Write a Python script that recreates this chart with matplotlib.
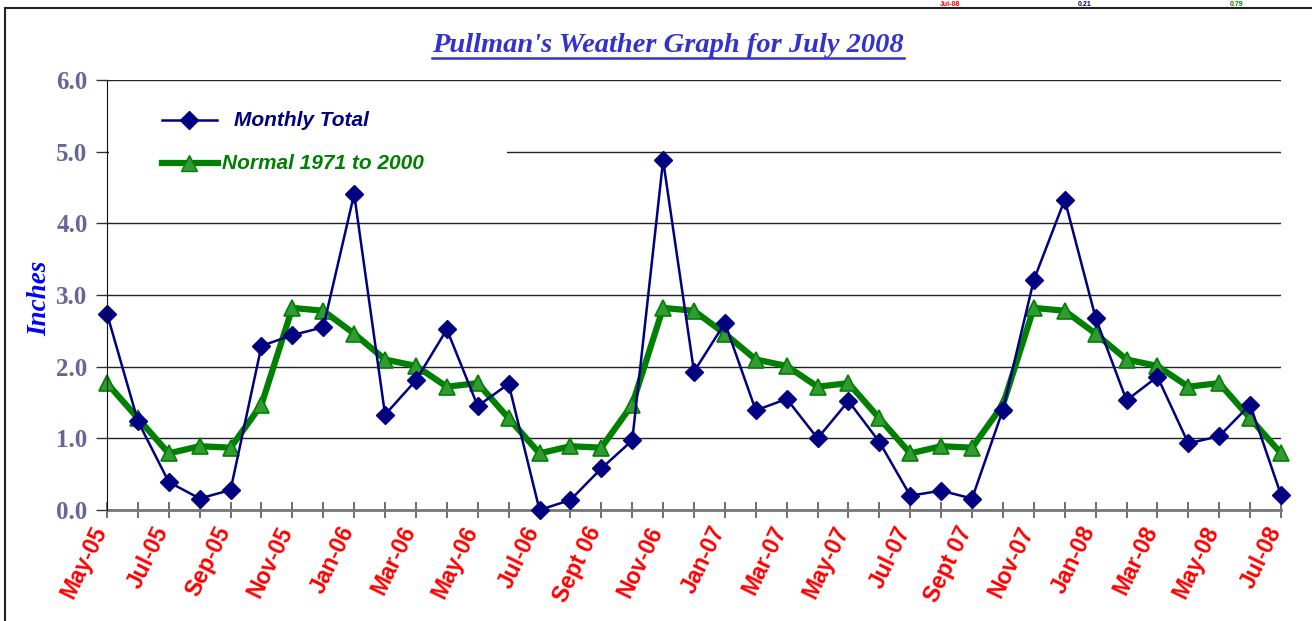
import matplotlib
matplotlib.use("Agg")
import matplotlib.pyplot as plt
import matplotlib.transforms as mtransforms
from matplotlib.lines import Line2D
from matplotlib.patches import Rectangle

# monthly data May-05 .. Jul-08
months = ["May-05", "Jun-05", "Jul-05", "Aug-05", "Sep-05", "Oct-05", "Nov-05", "Dec-05",
          "Jan-06", "Feb-06", "Mar-06", "Apr-06", "May-06", "Jun-06", "Jul-06", "Aug-06",
          "Sept 06", "Oct-06", "Nov-06", "Dec-06", "Jan-07", "Feb-07", "Mar-07", "Apr-07",
          "May-07", "Jun-07", "Jul-07", "Aug-07", "Sept 07", "Oct-07", "Nov-07", "Dec-07",
          "Jan-08", "Feb-08", "Mar-08", "Apr-08", "May-08", "Jun-08", "Jul-08"]

monthly_total = [2.74, 1.24, 0.39, 0.16, 0.28, 2.29, 2.44, 2.55,
                 4.41, 1.33, 1.81, 2.52, 1.45, 1.76, 0.00, 0.14,
                 0.58, 0.97, 4.88, 1.93, 2.61, 1.39, 1.55, 1.00,
                 1.52, 0.95, 0.20, 0.27, 0.16, 1.40, 3.21, 4.33,
                 2.68, 1.53, 1.86, 0.93, 1.03, 1.47, 0.21]

normal = [1.77, 1.28, 0.79, 0.89, 0.87, 1.47, 2.82, 2.78,
          2.46, 2.10, 2.01, 1.72, 1.77, 1.28, 0.79, 0.89,
          0.87, 1.47, 2.82, 2.78, 2.46, 2.10, 2.01, 1.72,
          1.77, 1.28, 0.79, 0.89, 0.87, 1.47, 2.82, 2.78,
          2.46, 2.10, 2.01, 1.72, 1.77, 1.28, 0.79]

W, H = 1312, 621
fig = plt.figure(figsize=(W / 100, H / 100), dpi=100)
ax = fig.add_axes([107 / W, 1 - 510 / H, (1281 - 107) / W, (510 - 80) / H])

x = list(range(len(months)))

ax.plot(x, monthly_total, color="#000080", lw=1.8, marker="D", ms=9,
        mfc="#000080", mec="#000080", zorder=5, clip_on=False)
ax.plot(x, normal, color="#008000", lw=4.5, marker="^", ms=11,
        mfc="#339933", mec="#008000", mew=1.2, zorder=4, clip_on=False)

ax.set_xlim(0, len(months) - 1)
ax.set_ylim(0, 6)
ax.set_yticks([0, 1, 2, 3, 4, 5, 6])
ax.set_yticklabels(["%.1f" % v for v in [0, 1, 2, 3, 4, 5, 6]],
                   fontfamily="Liberation Serif", fontweight="bold",
                   fontsize=18, color="#666699")
ax.tick_params(axis="y", length=8, width=1, color="#333333", pad=6)

ax.set_xticks(x)
ax.set_xticklabels([m if i % 2 == 0 else "" for i, m in enumerate(months)],
                   rotation=64, ha="right", va="top", rotation_mode="anchor",
                   fontfamily="Liberation Sans", fontweight="bold",
                   fontsize=16.5, color="#FF0000")
ax.tick_params(axis="x", direction="inout", length=12, width=1.2,
               color="#555555", pad=3)
shift = mtransforms.ScaledTranslation(-0.16, 0, fig.dpi_scale_trans)
for lbl in ax.get_xticklabels():
    lbl.set_transform(lbl.get_transform() + shift)

ax.grid(axis="y", color="#222222", lw=1)
ax.set_axisbelow(True)
for s in ["top", "right"]:
    ax.spines[s].set_visible(False)
ax.spines["left"].set_color("#111111")
ax.spines["left"].set_zorder(6)
ax.spines["bottom"].set_color("#777777")
ax.spines["bottom"].set_linewidth(2)

# legend box (hides part of gridline)
box = Rectangle((109 / W, 1 - 185 / H), 398 / W, 95 / H, transform=fig.transFigure,
                facecolor="white", edgecolor="none", zorder=3)
ax.add_artist(box)
box.set_transform(fig.transFigure)
box.set_clip_on(False)

fig.add_artist(Line2D([162 / W, 217 / W], [1 - 120 / H] * 2, color="#000080", lw=1.8))
fig.add_artist(Line2D([189 / W], [1 - 120 / H], color="#000080", marker="D", ms=9, ls="none"))
fig.text(234 / W, 1 - 120 / H, "Monthly Total", fontfamily="Liberation Sans",
         fontweight="bold", fontstyle="italic", fontsize=15, color="#000080", va="center")
fig.add_artist(Line2D([162 / W, 218 / W], [1 - 163 / H] * 2, color="#008000", lw=4.5))
fig.add_artist(Line2D([189 / W], [1 - 163 / H], color="#008000", marker="^", ms=11,
                      mfc="#339933", mec="#008000", ls="none"))
fig.text(222 / W, 1 - 163 / H, "Normal 1971 to 2000", fontfamily="Liberation Sans",
         fontweight="bold", fontstyle="italic", fontsize=15, color="#008000", va="center")

fig.text(40 / W, 1 - 298 / H, "Inches", rotation=90, ha="center", va="center",
         fontfamily="Liberation Serif", fontweight="bold", fontstyle="italic",
         fontsize=19.5, color="#0000FF")

title = fig.text(668 / W, 1 - 46 / H, "Pullman's Weather Graph for July 2008",
                 ha="center", va="center", fontfamily="Liberation Serif",
                 fontweight="bold", fontstyle="italic", fontsize=20.5, color="#3333CC")
fig.canvas.draw()
bb = title.get_window_extent(fig.canvas.get_renderer())
fig.add_artist(Line2D([bb.x0 / W, bb.x1 / W], [(bb.y0 + 1) / H] * 2,
                      color="#3333CC", lw=1.8))

# chart border
fig.add_artist(Line2D([5 / W, 5 / W], [0, 1 - 8 / H], color="#222222", lw=1.5))
fig.add_artist(Line2D([5 / W, 1], [1 - 8 / H] * 2, color="#222222", lw=1.5))

# header values above the chart (mostly out of frame in the original)
for xp, txt, col in [(950, "Jul-08", "#FF0000"), (1085, "0.21", "#000080"),
                     (1237, "0.79", "#008000")]:
    fig.text(xp / W, 1 - 0.5 / H, txt, color=col, fontfamily="Liberation Sans",
             fontweight="bold", fontsize=5, ha="center", va="top")

fig.savefig("out.png", dpi=100)
